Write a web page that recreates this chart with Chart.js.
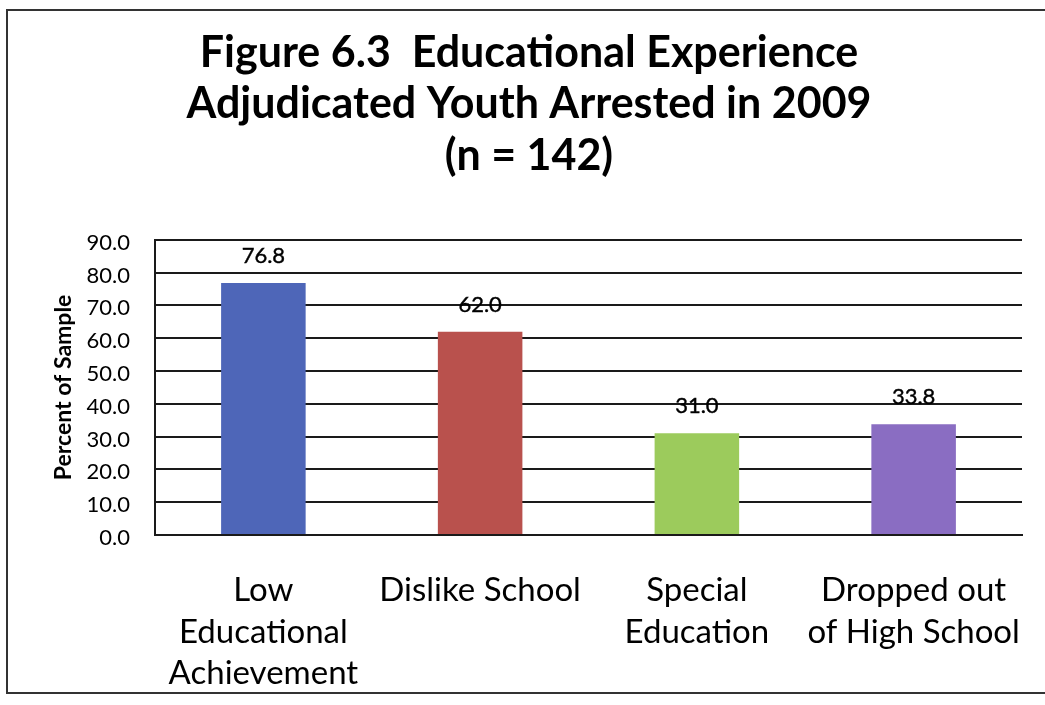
<!DOCTYPE html>
<html>
<head>
<meta charset="utf-8">
<title>Figure 6.3 Educational Experience</title>
<script src="https://cdn.jsdelivr.net/npm/chart.js@4/dist/chart.umd.min.js"></script>
<style>
  html, body { margin: 0; padding: 0; background: #ffffff; }
  #wrap { position: relative; width: 1045px; height: 705px; }
  canvas { display: block; }
</style>
</head>
<body>
<div id="wrap"><canvas id="chart" width="1045" height="705"></canvas></div>
<script>
// Chart data
const categories = [
  ['Low', 'Educational', 'Achievement'],
  ['Dislike School'],
  ['Special', 'Education'],
  ['Dropped out', 'of High School']
];
const percentOfSample = [76.8, 62.0, 31.0, 33.8];
const barColors = ['#4e66b8', '#b9514d', '#9ccb5c', '#8a6dc2'];
const titleLines = [
  'Figure 6.3  Educational Experience',
  'Adjudicated Youth Arrested in 2009',
  '(n = 142)'
];
const yAxisTitle = 'Percent of Sample';
const yMin = 0, yMax = 90, yStep = 10;

const FONT = 'Lato, "Open Sans", "Liberation Sans", sans-serif';

// Frame drawn around the whole figure
const framePlugin = {
  id: 'frame',
  beforeDraw(chart) {
    const ctx = chart.ctx;
    ctx.save();
    ctx.fillStyle = '#ffffff';
    ctx.fillRect(0, 0, chart.width, chart.height);
    ctx.strokeStyle = '#333333';
    ctx.lineWidth = 2;
    ctx.beginPath();
    ctx.moveTo(chart.width + 5, 10);
    ctx.lineTo(7, 10);
    ctx.lineTo(7, 693);
    ctx.lineTo(chart.width + 5, 693);
    ctx.stroke();
    ctx.restore();
  }
};

// Value labels above each bar
const valueLabels = {
  id: 'valueLabels',
  afterDatasetsDraw(chart) {
    const ctx = chart.ctx;
    const meta = chart.getDatasetMeta(0);
    const data = chart.data.datasets[0].data;
    ctx.save();
    ctx.font = '22px ' + FONT;
    ctx.fillStyle = '#000000';
    ctx.strokeStyle = '#000000';
    ctx.lineWidth = 0.4;
    ctx.textAlign = 'center';
    ctx.textBaseline = 'middle';
    meta.data.forEach((bar, i) => {
      const txt = Number(data[i]).toFixed(1);
      ctx.fillText(txt, bar.x, bar.y - 27);
      ctx.strokeText(txt, bar.x, bar.y - 27);
    });
    ctx.restore();
  }
};

new Chart(document.getElementById('chart'), {
  type: 'bar',
  data: {
    labels: categories,
    datasets: [{
      data: percentOfSample,
      backgroundColor: barColors,
      borderWidth: 0,
      barPercentage: 0.39,
      categoryPercentage: 1.0
    }]
  },
  options: {
    responsive: false,
    animation: false,
    devicePixelRatio: 1,
    layout: { padding: { left: 36, right: 23, top: 0, bottom: 0 } },
    plugins: {
      legend: { display: false },
      tooltip: { enabled: false },
      title: {
        display: true,
        text: titleLines,
        color: '#000000',
        font: { family: FONT, size: 43, weight: 'bold', lineHeight: 1.2 },
        padding: { top: 27, bottom: 58 }
      }
    },
    scales: {
      x: {
        grid: { display: false, drawTicks: false },
        border: { display: true, color: '#1a1a1a', width: 2 },
        ticks: {
          color: '#000000',
          font: { family: FONT, size: 33, lineHeight: 1.27 },
          padding: 34,
          maxRotation: 0,
          autoSkip: false
        },
        afterFit(scale) {
          scale.height = 170;
          scale.paddingLeft = 0;
          scale.paddingRight = 0;
        }
      },
      y: {
        min: yMin,
        max: yMax,
        grid: { color: '#1a1a1a', lineWidth: 2, drawTicks: false },
        border: { display: true, color: '#1a1a1a', width: 2 },
        ticks: {
          stepSize: yStep,
          color: '#000000',
          font: { family: FONT, size: 22 },
          padding: 25,
          labelOffset: 3,
          callback: (v) => Number(v).toFixed(1)
        },
        title: {
          display: true,
          text: yAxisTitle,
          color: '#000000',
          font: { family: FONT, size: 23, weight: 'bold' },
          padding: { top: 14, bottom: 0 }
        },
        afterFit(scale) { scale.width = 119; }
      }
    }
  },
  plugins: [framePlugin, valueLabels]
});
</script>
</body>
</html>
